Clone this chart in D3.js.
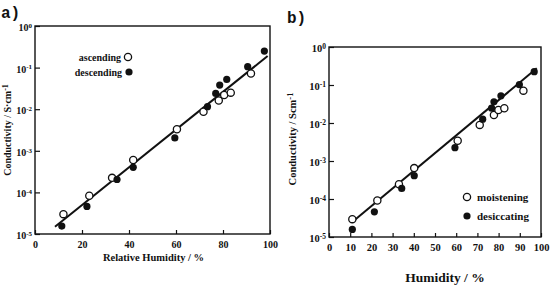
<!DOCTYPE html>
<html>
<head>
<meta charset="utf-8">
<script src="https://cdn.jsdelivr.net/npm/d3@7"></script>
<style>
  body { margin: 0; background: #fff; }
  svg { display: block; }
  text { font-family: "Liberation Serif", "DejaVu Serif", serif; font-weight: bold; fill: #111; }
  text.letter { font-family: "Liberation Mono", "DejaVu Sans Mono", monospace; font-weight: bold; }
</style>
</head>
<body>
<svg id="fig" width="553" height="285"></svg>
<script>
// panel a) : relative humidity (%) vs conductivity (S/cm)
const ascHumidity = [12.1, 23.1, 32.8, 41.8, 60.4, 71.7, 78.2, 80.5, 83.3, 91.9];
const ascCond = [3.0e-5, 8.3e-5, 2.24e-4, 6.0e-4, 3.3e-3, 8.7e-3, 1.62e-2, 2.19e-2, 2.5e-2, 7.2e-2];
const descHumidity = [11.4, 22.1, 34.9, 41.8, 59.5, 73.4, 76.9, 78.6, 81.6, 90.5, 97.6];
const descCond = [1.55e-5, 4.6e-5, 2.04e-4, 4.0e-4, 2.04e-3, 1.15e-2, 2.4e-2, 3.8e-2, 5.2e-2, 0.105, 0.25];
const fitA = [[8.5, 1.5e-5], [99, 0.19]];

// panel b) : humidity (%) vs conductivity (S/cm)
const moistHumidity = [11.0, 22.8, 33.0, 40.2, 60.7, 71.1, 77.8, 79.9, 82.7, 91.7];
const moistCond = [2.95e-5, 9.1e-5, 2.45e-4, 6.5e-4, 3.4e-3, 8.9e-3, 1.62e-2, 2.19e-2, 2.45e-2, 7.1e-2];
const dryHumidity = [11.0, 21.4, 34.3, 40.2, 59.4, 72.5, 76.7, 77.8, 81.1, 89.8, 96.8];
const dryCond = [1.58e-5, 4.6e-5, 1.9e-4, 4.1e-4, 2.24e-3, 1.26e-2, 2.45e-2, 3.6e-2, 5.2e-2, 0.102, 0.224];
const fitB = [[10.7, 2.4e-5], [98, 0.275]];

const yTicks = [1, 1e-1, 1e-2, 1e-3, 1e-4, 1e-5];
const yTickExp = ["0", "-1", "-2", "-3", "-4", "-5"];
const xTicksA = [0, 20, 40, 60, 80, 100];
const xTicksB = [0, 10, 20, 30, 40, 50, 60, 70, 80, 90, 100];

const svg = d3.select("#fig");

function pts(xs, ys) { return xs.map((x, i) => [x, ys[i]]); }

function drawPanel(cfg) {
  const g = svg.append("g");
  const x = d3.scaleLinear().domain([0, 100]).range([cfg.left, cfg.right]);
  const y = d3.scaleLog().domain([1e-5, 1]).range([cfg.bottom, cfg.top]);

  // frame
  g.append("rect")
    .attr("x", cfg.left).attr("y", cfg.top)
    .attr("width", cfg.right - cfg.left).attr("height", cfg.bottom - cfg.top)
    .attr("fill", "none").attr("stroke", "#111").attr("stroke-width", 1.4);

  // x axis, ticks pointing inward
  const xa = g.append("g").attr("transform", `translate(0,${cfg.bottom})`)
    .call(d3.axisBottom(x).tickValues(cfg.xTicks).tickSizeInner(-4).tickSizeOuter(0).tickPadding(7));
  xa.select(".domain").remove();
  xa.selectAll("line").attr("stroke", "#111").attr("stroke-width", 1.2);
  xa.selectAll("text").attr("font-size", cfg.tickFont).attr("font-family", null).attr("fill", "#111");

  // y axis
  const ya = g.append("g").attr("transform", `translate(${cfg.left},0)`)
    .call(d3.axisLeft(y).tickValues(yTicks).tickSizeInner(-5).tickSizeOuter(0).tickPadding(4).tickFormat(""));
  ya.select(".domain").remove();
  ya.selectAll("line").attr("stroke", "#111").attr("stroke-width", 1.2);
  ya.selectAll(".tick text").each(function(d, i) {
    const t = d3.select(this).attr("font-size", cfg.tickFont).attr("font-family", null)
      .attr("fill", "#111").attr("dy", "0.45em").attr("x", -3);
    t.append("tspan").text("10");
    t.append("tspan").attr("dy", "-0.45em").attr("font-size", cfg.tickFont - 3).text(yTickExp[i]);
  });

  // fit line
  g.append("path").datum(cfg.fit)
    .attr("d", d3.line().x(d => x(d[0])).y(d => y(d[1])))
    .attr("fill", "none").attr("stroke", "#111").attr("stroke-width", 2);

  // points
  const r = 3.6;
  g.selectAll(".open").data(pts(cfg.openX, cfg.openY)).join("circle")
    .attr("cx", d => x(d[0])).attr("cy", d => y(d[1])).attr("r", r)
    .attr("fill", "#fff").attr("stroke", "#111").attr("stroke-width", 1.3);
  g.selectAll(".full").data(pts(cfg.fullX, cfg.fullY)).join("circle")
    .attr("cx", d => x(d[0])).attr("cy", d => y(d[1])).attr("r", r)
    .attr("fill", "#111");

  // axis titles
  g.append("text").attr("x", (cfg.left + cfg.right) / 2 + cfg.xTitleShift).attr("y", cfg.xTitleY)
    .attr("text-anchor", "middle").attr("font-size", cfg.xTitleFont).text(cfg.xTitle);
  const yt = g.append("text")
    .attr("transform", `translate(${cfg.yTitleX},${cfg.yTitleY}) rotate(-90)`)
    .attr("text-anchor", "middle").attr("font-size", cfg.yTitleFont);
  yt.append("tspan").text(cfg.yTitle);
  yt.append("tspan").attr("dy", "-0.4em").attr("font-size", cfg.yTitleFont - 2).text("-1");

  // panel letter
  svg.append("text").attr("class", "letter").attr("x", cfg.letterX).attr("y", cfg.letterY)
    .attr("font-size", 16).text(cfg.letter);

  // legend
  cfg.legend.forEach(l => {
    const c = g.append("circle").attr("cx", l.cx).attr("cy", l.cy).attr("r", r);
    if (l.filled) c.attr("fill", "#111");
    else c.attr("fill", "#fff").attr("stroke", "#111").attr("stroke-width", 1.3);
    g.append("text").attr("x", l.tx).attr("y", l.cy + 3.5)
      .attr("text-anchor", l.anchor).attr("font-size", cfg.legendFont).text(l.label);
  });
}

drawPanel({
  left: 35, right: 270, top: 26, bottom: 234,
  xTicks: xTicksA, tickFont: 10,
  openX: ascHumidity, openY: ascCond, fullX: descHumidity, fullY: descCond, fit: fitA,
  xTitle: "Relative Humidity / %", xTitleY: 261, xTitleFont: 10.5, xTitleShift: 1,
  yTitle: "Conductivity / S\u00b7cm", yTitleX: 11, yTitleY: 130, yTitleFont: 10,
  letter: "a)", letterX: 1, letterY: 18,
  legendFont: 10,
  legend: [
    { label: "ascending", cx: 128, cy: 57, tx: 121, anchor: "end", filled: false },
    { label: "descending", cx: 129, cy: 72, tx: 122, anchor: "end", filled: true }
  ]
});

drawPanel({
  left: 329, right: 541, top: 47, bottom: 237,
  xTicks: xTicksB, tickFont: 10.5,
  openX: moistHumidity, openY: moistCond, fullX: dryHumidity, fullY: dryCond, fit: fitB,
  xTitle: "Humidity / %", xTitleY: 282, xTitleFont: 13.5, xTitleShift: 10,
  yTitle: "Conductivity / Scm", yTitleX: 296, yTitleY: 139, yTitleFont: 10.5,
  letter: "b)", letterX: 287, letterY: 23,
  legendFont: 11,
  legend: [
    { label: "moistening", cx: 467, cy: 197, tx: 477, anchor: "start", filled: false },
    { label: "desiccating", cx: 467, cy: 216, tx: 477, anchor: "start", filled: true }
  ]
});
</script>
</body>
</html>
